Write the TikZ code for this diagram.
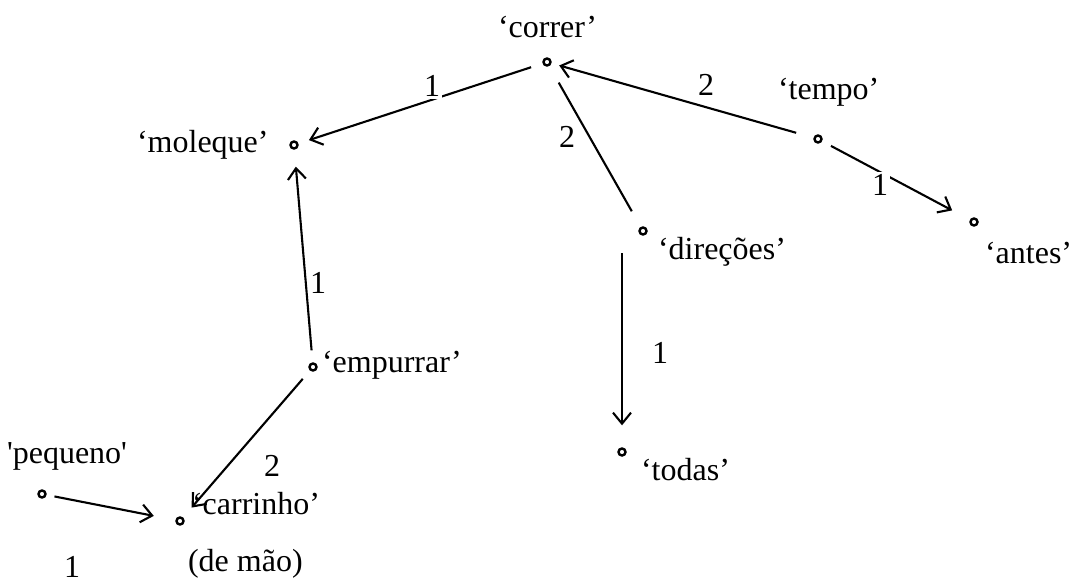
\documentclass[tikz,border=0pt]{standalone}
\usepackage{fontspec}
\setmainfont{Liberation Serif}
\usetikzlibrary{arrows.meta}

\begin{document}
\begin{tikzpicture}[->,>={Straight Barb[length=11pt,width=18pt]},x=1pt,y=-1pt,line width=2.1pt,
    dot/.style={circle,draw,inner sep=0pt,minimum size=7pt,line width=2.4pt},
    word/.style={inner sep=0pt,anchor=base west,font=\fontsize{32}{40}\selectfont},
    num/.style={inner sep=2pt,fill=white,font=\fontsize{32}{38}\selectfont}]
      \useasboundingbox (0,0) rectangle (1070,584);

      % vertices
      \node[dot] (correr)   at (547,62)  {};
      \node[dot] (moleque)  at (294,145) {};
      \node[dot] (tempo)    at (818,139) {};
      \node[dot] (antes)    at (974,222) {};
      \node[dot] (direcoes) at (643,231) {};
      \node[dot] (empurrar) at (313,367) {};
      \node[dot] (todas)    at (622,452) {};
      \node[dot] (pequeno)  at (42,494)  {};
      \node[dot] (carrinho) at (180,521) {};

      \node[word] (correr-t)   at (497,37)  {‘correr’};
      \node[word] (moleque-t)  at (136,152) {‘moleque’};
      \node[word] (tempo-t)    at (777,99)  {‘tempo’};
      \node[word] (antes-t)    at (984,263) {‘antes’};
      \node[word] (direcoes-t) at (657,259) {‘direções’};
      \node[word] (empurrar-t) at (321,372) {‘empurrar’};
      \node[word] (todas-t)    at (640,480) {‘todas’};
      \node[word] (pequeno-t)  at (6,463)   {\textquotesingle pequeno\textquotesingle};
      \node[word] (carrinho-t) at (191,514) {‘carrinho’};
      \node[word] (demao-t)    at (187,571) {(de mão)};

      % arcs
      \path (correr)   edge [shorten <=12pt,shorten >=11pt] (moleque)
            (tempo)    edge [shorten <=18pt,shorten >=8pt]  (correr)
            (correr)   edge [-,shorten <=19pt,shorten >=18pt] (direcoes)
            (tempo)    edge [shorten <=10pt,shorten >=20pt] (antes)
            (empurrar) edge [shorten <=12pt,shorten >=17pt] (moleque)
            (todas |- direcoes) edge [shorten <=22pt,shorten >=22pt] (todas)
            (empurrar) edge [shorten <=11pt,shorten >=13pt] (carrinho)
            (pequeno)  edge [shorten <=8pt,shorten >=22pt]  (carrinho);

      % arc labels
      \node[num] (l1) at (432,86)  {1};
      \node[num] (l2) at (706,85)  {2};
      \node[num] (l3) at (567,137) {2};
      \node[num] (l4) at (880,185) {1};
      \node[num] (l5) at (318,283) {1};
      \node[num] (l6) at (660,353) {1};
      \node[num] (l7) at (272,466) {2};
      \node[num] (l8) at (72,567)  {1};
    \end{tikzpicture}
\end{document}
